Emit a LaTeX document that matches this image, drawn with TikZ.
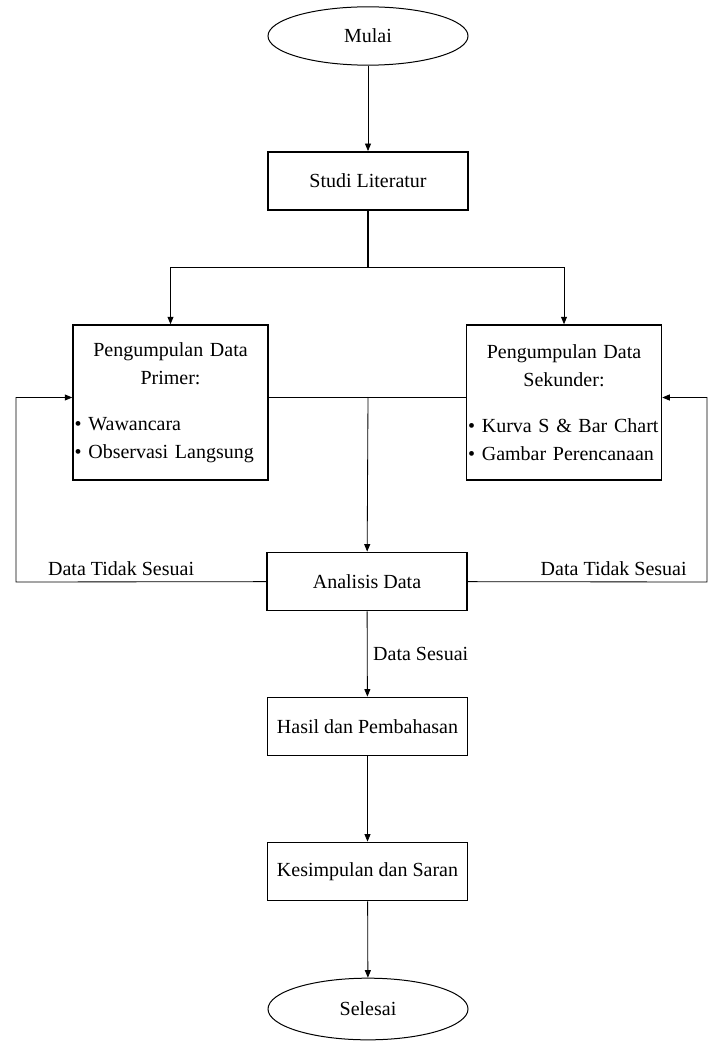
\documentclass[tikz,border=0pt]{standalone}
\usepackage{fontspec}
\setmainfont{Liberation Serif}
\usetikzlibrary{shapes.geometric, arrows.meta, positioning, calc}

\begin{document}
\begin{tikzpicture}[
    x=0.6pt, y=-0.6pt, % one unit = one pixel of the sketch
    every node/.style={font=\fontsize{12}{16.8}\selectfont},
    proses/.style={draw, line width=0.9pt, minimum width=120pt, minimum height=35pt, inner sep=1pt},
    terminal/.style={draw, ellipse, line width=0.6pt, minimum width=120pt, minimum height=35pt},
    datakotak/.style={draw, line width=0.9pt, minimum height=93pt, text width=115pt, inner sep=1pt},
    panah/.style={-{Triangle[length=4.5pt,width=3.6pt]}, line width=0.5pt},
    garis/.style={line width=0.9pt},
]
\useasboundingbox (0,0) rectangle (707,1041);

% =========================================================
% 1. Awal dan studi literatur
% =========================================================
\node[terminal] (mulai) at (368,36) {Mulai};
\node[proses] (studi) at (368,181) {Studi Literatur};

% =========================================================
% 2. Pengumpulan data
% =========================================================
\node[datakotak] (primer) at (170.5,402.5) {%
    \centering Pengumpulan Data\\ Primer:\par\vspace{11pt}%
    \raggedright
    \textbullet\ Wawancara\\
    \textbullet\ Observasi Langsung\par};
\node[datakotak] (sekunder) at (564,402.5) {%
    \centering Pengumpulan Data\\ Sekunder:\par\vspace{11pt}%
    \raggedright
    \textbullet\ Kurva S \& Bar Chart\\
    \textbullet\ Gambar Perencanaan\par};

% =========================================================
% 3. Analisis sampai selesai
% =========================================================
\node[proses] (analisis) at (367,581.5) {Analisis Data};
\node[proses] (hasil) at (367.5,726.5) {Hasil dan Pembahasan};
\node[proses] (kesimpulan) at (367.5,871.5) {Kesimpulan dan Saran};
\node[terminal, minimum height=37pt] (selesai) at (368,1009) {Selesai};

% Titik bantu
\coordinate (cabang) at (368,267);
\coordinate (temu) at (368,397);
\coordinate (kiri) at (16,582);
\coordinate (kanan) at (707,582);

% Alur utama
\draw[panah] (mulai) -- (studi);
\draw[garis] (studi) -- (cabang);
\draw[panah] (cabang) -| (primer);
\draw[panah] (cabang) -| (sekunder);
\draw[garis] ([yshift=3pt]primer.east) -- ([yshift=3pt]sekunder.west);
\draw[panah] (temu) -- (analisis);

% Umpan balik: data tidak sesuai
\draw[panah] (analisis) -- node[above, pos=0.58] {Data Tidak Sesuai} (kiri) |- ([yshift=3pt]primer.west);
\draw[panah] (analisis) -- node[above, pos=0.61] {Data Tidak Sesuai} (kanan) |- ([yshift=3pt]sekunder.east);

% Data sesuai
\draw[panah] (analisis) -- node[right, pos=0.5] {Data Sesuai} (hasil);
\draw[panah] (hasil) -- (kesimpulan);
\draw[panah] (kesimpulan) -- (selesai);

\end{tikzpicture}
\end{document}
